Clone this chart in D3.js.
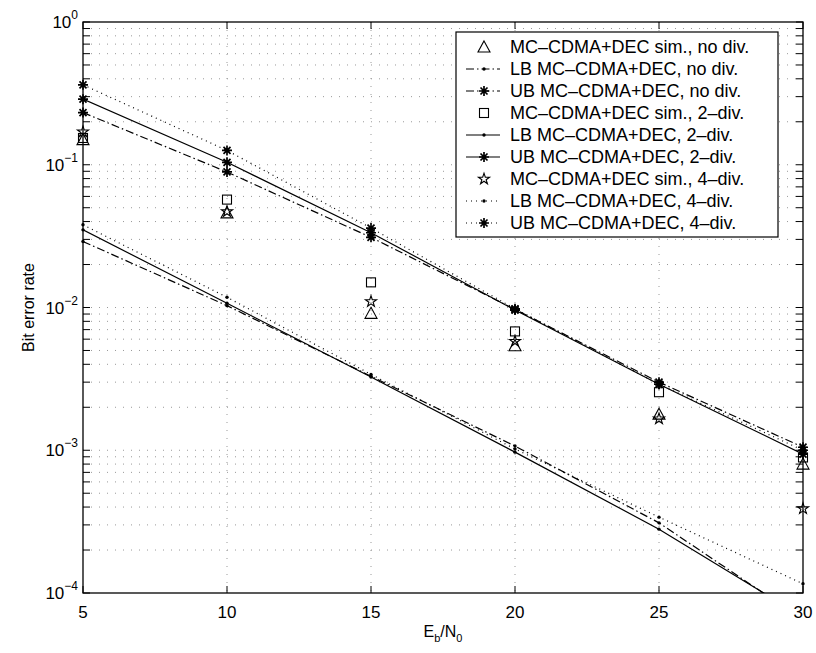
<!DOCTYPE html>
<html>
<head>
<meta charset="utf-8">
<script src="https://cdn.jsdelivr.net/npm/d3@7"></script>
<style>
body{margin:0;background:#fff;}
text{font-family:"Liberation Sans",Arial,sans-serif;fill:#000;}
</style>
</head>
<body>
<div id="chart"></div>
<script>
// data
var ebno = [5,10,15,20,25,30];

var simNoDiv  = [0.150,0.046,0.0091,0.0054,0.00179,0.00080];
var sim2Div   = [0.154,0.057,0.0150,0.0068,0.00255,0.00089];
var sim4Div   = [0.170,0.047,0.0110,0.0058,0.00166,0.00039];

var lbNoDiv = [0.029,0.0103,0.0033,0.00107,0.00031,0.000065];
var ubNoDiv = [0.232,0.089,0.031,0.0097,0.0030,0.00105];
var lb2Div  = [0.035,0.0107,0.00326,0.00097,0.00028,0.000068];
var ub2Div  = [0.288,0.104,0.0334,0.0096,0.0029,0.00094];
var lb4Div  = [0.038,0.0118,0.0034,0.00102,0.00034,0.000116];
var ub4Div  = [0.363,0.126,0.036,0.0098,0.0029,0.00100];

var legendLabels = [
  "MC\u2013CDMA+DEC sim., no div.",
  "LB MC\u2013CDMA+DEC, no div.",
  "UB MC\u2013CDMA+DEC, no div.",
  "MC\u2013CDMA+DEC sim., 2\u2013div.",
  "LB MC\u2013CDMA+DEC, 2\u2013div.",
  "UB MC\u2013CDMA+DEC, 2\u2013div.",
  "MC\u2013CDMA+DEC sim., 4\u2013div.",
  "LB MC\u2013CDMA+DEC, 4\u2013div.",
  "UB MC\u2013CDMA+DEC, 4\u2013div."
];

var W = 816, H = 653;
var m = {l:83, r:13, t:22, b:60};

var svg = d3.select("#chart").append("svg").attr("width",W).attr("height",H);

var X = d3.scaleLinear().domain([5,30]).range([m.l, W-m.r]);
var Y = d3.scaleLog().domain([1e-4,1]).range([H-m.b, m.t]);

var x0 = X.range()[0], x1 = X.range()[1], y0 = Y.range()[1], y1 = Y.range()[0];

svg.append("clipPath").attr("id","clip").append("rect")
  .attr("x",x0).attr("y",y0).attr("width",x1-x0).attr("height",y1-y0);

// grid
var gridY = [];
for (var e=-4; e<0; e++) for (var k=1; k<=9; k++) if (!(k==1 && e==-4)) gridY.push(k*Math.pow(10,e));

svg.selectAll(".gy").data(gridY).enter().append("line")
  .attr("x1",x0).attr("x2",x1)
  .attr("y1",function(d){return Y(d)}).attr("y2",function(d){return Y(d)})
  .style("stroke","#999").style("stroke-width",1).style("stroke-dasharray","1,7");

svg.selectAll(".gx").data(ebno.slice(1,-1)).enter().append("line")
  .attr("y1",y0).attr("y2",y1)
  .attr("x1",function(d){return X(d)}).attr("x2",function(d){return X(d)})
  .style("stroke","#999").style("stroke-width",1).style("stroke-dasharray","1,7");

// ticks (inside, MATLAB style)
var tl = 7;
var allY = gridY.concat([1e-4,1]);
allY.forEach(function(d){
  svg.append("line").attr("x1",x0).attr("x2",x0+tl).attr("y1",Y(d)).attr("y2",Y(d)).style("stroke","#000");
  svg.append("line").attr("x1",x1).attr("x2",x1-tl).attr("y1",Y(d)).attr("y2",Y(d)).style("stroke","#000");
});
ebno.forEach(function(d){
  svg.append("line").attr("x1",X(d)).attr("x2",X(d)).attr("y1",y1).attr("y2",y1-tl).style("stroke","#000");
  svg.append("line").attr("x1",X(d)).attr("x2",X(d)).attr("y1",y0).attr("y2",y0+tl).style("stroke","#000");
});

svg.append("rect").attr("x",x0).attr("y",y0).attr("width",x1-x0).attr("height",y1-y0)
  .style("fill","none").style("stroke","#000").style("stroke-width",1.3);

// tick labels
var decades = [1,1e-1,1e-2,1e-3,1e-4];
decades.forEach(function(d){
  var ex = Math.round(Math.log10(d));
  var t = svg.append("text").attr("x",x0-5).attr("y",Y(d)+6)
    .attr("text-anchor","end").style("font-size","17px");
  t.append("tspan").text("10");
  t.append("tspan").attr("dy",-9).style("font-size","12px").text(ex==0 ? "0" : "\u2212"+(-ex));
});
ebno.forEach(function(d){
  svg.append("text").attr("x",X(d)).attr("y",y1+25).attr("text-anchor","middle")
    .style("font-size","17px").text(d);
});

// axis labels
var xl = svg.append("text").attr("x",(x0+x1)/2).attr("y",y1+44).attr("text-anchor","middle").style("font-size","16px");
xl.append("tspan").text("E");
xl.append("tspan").attr("dy",5).style("font-size","11px").text("b");
xl.append("tspan").attr("dy",-5).text("/N");
xl.append("tspan").attr("dy",5).style("font-size","11px").text("0");

svg.append("text").attr("transform","translate(34,"+((y0+y1)/2)+") rotate(-90)")
  .attr("text-anchor","middle").style("font-size","16px").text("Bit error rate");

// markers
function asterisk(g,s){
  var p = "M"+(-s)+",0L"+s+",0M0,"+(-s)+"L0,"+s+
    "M"+(-s*0.7)+","+(-s*0.7)+"L"+(s*0.7)+","+(s*0.7)+
    "M"+(-s*0.7)+","+(s*0.7)+"L"+(s*0.7)+","+(-s*0.7);
  g.append("path").attr("d",p).style("stroke","#000").style("stroke-width",1.7).style("fill","none");
}
function triangle(g){
  g.append("path").attr("d","M0,-6L6,5L-6,5Z").style("fill","none").style("stroke","#000").style("stroke-width",1.1);
}
function square(g){
  g.append("rect").attr("x",-4.5).attr("y",-4.5).attr("width",9).attr("height",9).style("fill","none").style("stroke","#000").style("stroke-width",1.1);
}
function pentagram(g){
  g.append("path").attr("d",d3.symbol().type(d3.symbolStar).size(38)()).style("fill","none").style("stroke","#000").style("stroke-width",1.1);
}
function dot(g){
  g.append("circle").attr("r",1.7).style("fill","#000");
}

var dashDot = "8,3,1.5,3", dotted = "1,4";

var line = d3.line().x(function(d){return X(d.x)}).y(function(d){return Y(d.y)});
function pts(arr){ return ebno.map(function(x,i){return {x:x,y:arr[i]}}); }

var curves = [
  {data:lbNoDiv, dash:dashDot, mk:dot},
  {data:ubNoDiv, dash:dashDot, mk:function(g){asterisk(g,5)}},
  {data:lb2Div,  dash:null,    mk:dot},
  {data:ub2Div,  dash:null,    mk:function(g){asterisk(g,5)}},
  {data:lb4Div,  dash:dotted,  mk:dot},
  {data:ub4Div,  dash:dotted,  mk:function(g){asterisk(g,5)}}
];

var plot = svg.append("g").attr("clip-path","url(#clip)");
curves.forEach(function(c){
  plot.append("path").attr("d",line(pts(c.data)))
    .style("fill","none").style("stroke","#000").style("stroke-width",1.2)
    .style("stroke-dasharray",c.dash);
  pts(c.data).forEach(function(p){
    if (p.y < 1e-4) return;
    var g = svg.append("g").attr("transform","translate("+X(p.x)+","+Y(p.y)+")");
    c.mk(g);
  });
});

var sims = [{data:simNoDiv, mk:triangle},{data:sim2Div, mk:square},{data:sim4Div, mk:pentagram}];
sims.forEach(function(c){
  pts(c.data).forEach(function(p){
    var g = svg.append("g").attr("transform","translate("+X(p.x)+","+Y(p.y)+")");
    c.mk(g);
  });
});

// legend
var lg = svg.append("g");
lg.append("rect").attr("x",456).attr("y",32).attr("width",322).attr("height",205)
  .style("fill","#fff").style("stroke","#000").style("stroke-width",1.2);

var legendMarks = [
  {mk:triangle, dash:"none"},
  {mk:dot, dash:dashDot},
  {mk:function(g){asterisk(g,5)}, dash:dashDot},
  {mk:square, dash:"none"},
  {mk:dot, dash:null},
  {mk:function(g){asterisk(g,5)}, dash:null},
  {mk:pentagram, dash:"none"},
  {mk:dot, dash:dotted},
  {mk:function(g){asterisk(g,5)}, dash:dotted}
];

legendLabels.forEach(function(s,i){
  var yy = 47 + i*22;
  var lm = legendMarks[i];
  if (lm.dash != "none") {
    lg.append("line").attr("x1",466).attr("x2",500).attr("y1",yy).attr("y2",yy)
      .style("stroke","#000").style("stroke-width",1.2).style("stroke-dasharray",lm.dash);
  }
  var g = lg.append("g").attr("transform","translate(484,"+yy+")");
  lm.mk(g);
  lg.append("text").attr("x",510).attr("y",yy+6).style("font-size","18px").text(s);
});
</script>
</body>
</html>
